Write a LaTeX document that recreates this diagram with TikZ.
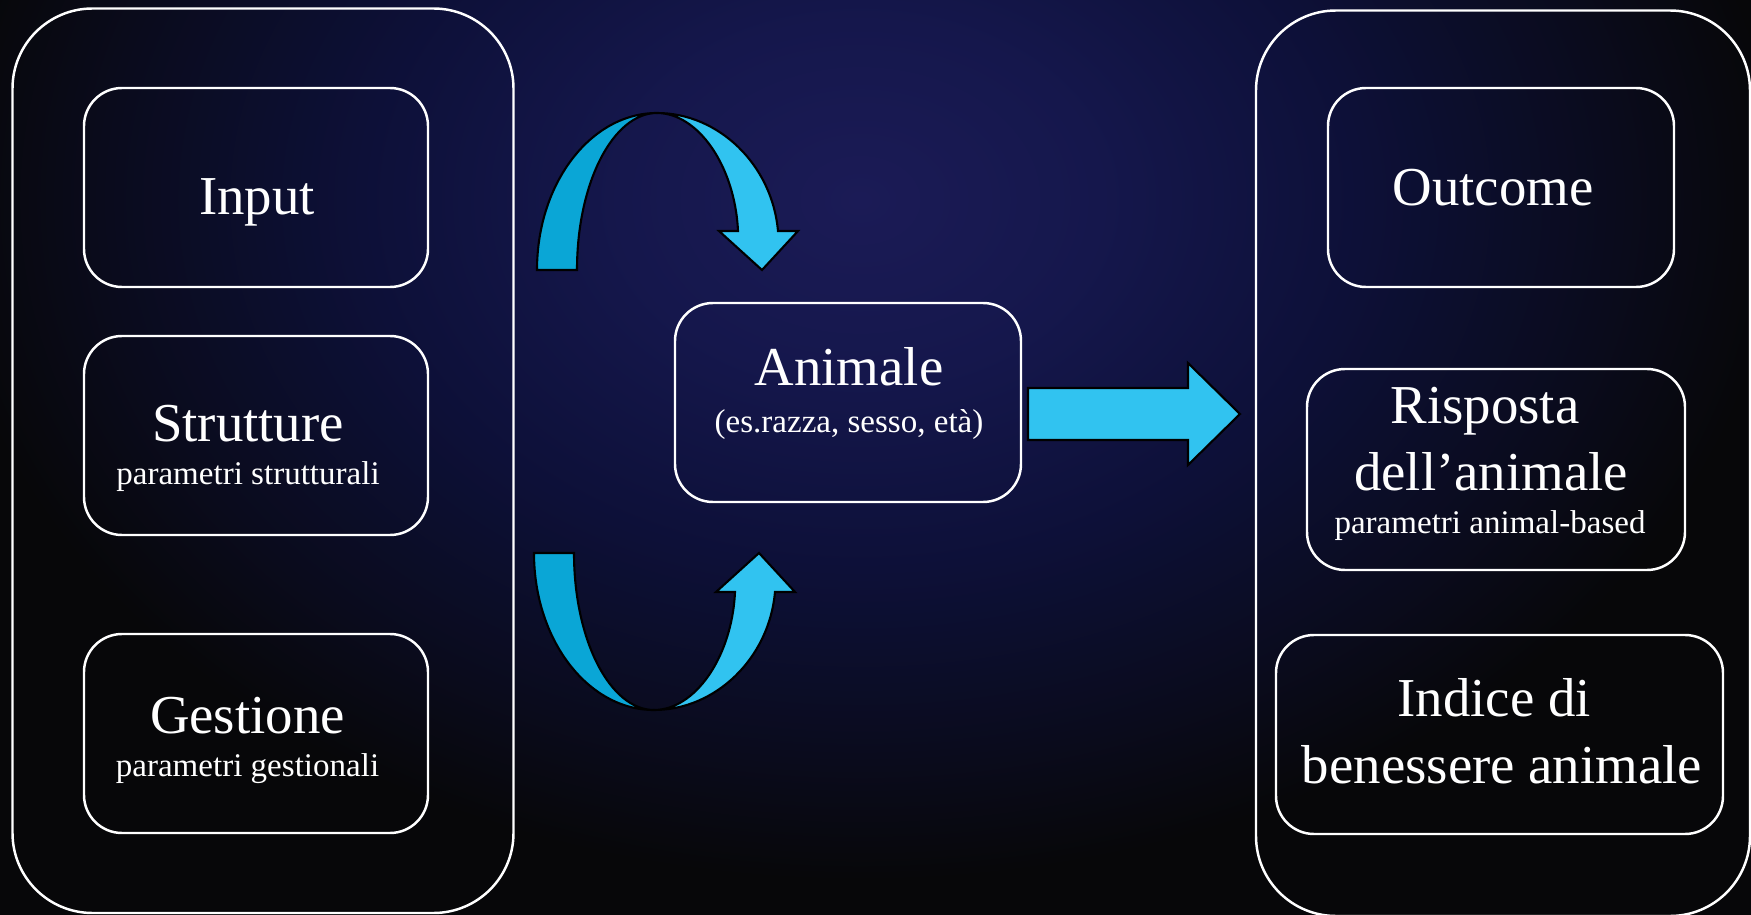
\documentclass[tikz,border=0pt]{standalone}
\usepackage{fontspec}
\setmainfont{Liberation Serif}
\definecolor{glowA}{HTML}{1B1B56}
\definecolor{glowB}{HTML}{15174C}
\definecolor{glowC}{HTML}{0D1038}
\definecolor{glowD}{HTML}{0A0B1C}
\definecolor{glowE}{HTML}{070709}
\definecolor{bandDark}{HTML}{0AA6D6}
\definecolor{bandLight}{HTML}{31C3F0}
\pgfdeclareradialshading{bgglow}{\pgfpoint{0bp}{0bp}}{color(0bp)=(glowA); color(6bp)=(glowB); color(12.5bp)=(glowC); color(19bp)=(glowD); color(23bp)=(glowE); color(50bp)=(glowE)}
\tikzset{
  bigbox/.style = {draw=white, line width=0.7pt, rounded corners=0.8cm, inner sep=0pt},
  box/.style = {draw=white, line width=0.7pt, rounded corners=0.38cm, inner sep=0pt,
    minimum height=1.99cm},
  maintxt/.style = {text=white, anchor=base, inner sep=0pt, font=\fontsize{15.6}{18}\selectfont},
  subtxt/.style = {text=white, anchor=base, inner sep=0pt, font=\fontsize{9.4}{11}\selectfont},
  darkband/.style = {draw=black, line width=0.6pt, fill=bandDark},
  lightband/.style = {draw=black, line width=0.6pt, fill=bandLight},
  looparrow/.pic = {
    \draw[darkband] (5.37,2.70) .. controls (5.37,1.83) and (5.91,1.13) .. (6.57,1.13)
      .. controls (6.13,1.13) and (5.77,1.83) .. (5.77,2.70) -- cycle;
    \draw[lightband] (6.57,1.13) .. controls (7.18,1.13) and (7.72,1.64) .. (7.78,2.31)
      -- (7.98,2.31) -- (7.62,2.70) -- (7.19,2.31) -- (7.38,2.31)
      .. controls (7.35,1.66) and (6.98,1.13) .. (6.57,1.13) -- cycle;
  },
}

\begin{document}
\begin{tikzpicture}[x=1cm,y=-1cm]
\useasboundingbox (0,0) rectangle (17.51,9.15);
% background
\begin{scope}
  \clip (0,0) rectangle (17.51,9.15);
  \shade[shading=bgglow] (-1.4,-5.4) rectangle (18.6,9.4);
\end{scope}

% groups
\node[bigbox, minimum width=5.01cm, minimum height=9.045cm] (left) at (2.63,4.6075) {};
\node[bigbox, minimum width=4.94cm, minimum height=9.055cm] (right) at (15.03,4.6325) {};

% left column
\node[box, minimum width=3.44cm] (input) at (2.56,1.875) {};
\node[box, minimum width=3.44cm] (strutture) at (2.56,4.355) {};
\node[box, minimum width=3.44cm] (gestione) at (2.56,7.335) {};
\node[maintxt] (input-t) at (2.57,2.14) {Input};
\node[maintxt] (strutture-t) at (2.48,4.41) {Strutture};
\node[subtxt] (strutture-s) at (2.48,4.845) {parametri strutturali};
\node[maintxt] (gestione-t) at (2.475,7.335) {Gestione};
\node[subtxt] (gestione-s) at (2.475,7.76) {parametri gestionali};

% centre
\node[box, minimum width=3.46cm] (animale) at (8.48,4.025) {};
\node[maintxt] (animale-t) at (8.49,3.855) {Animale};
\node[subtxt] (animale-s) at (8.49,4.32) {(es.razza, sesso, età)};

\pic at (0,0) {looparrow};
\pic[yscale=-1] at (-0.03,8.23) {looparrow};
\draw[lightband] (10.28,3.88) -- (11.88,3.88) -- (11.88,3.63) -- (12.40,4.14)
  -- (11.88,4.65) -- (11.88,4.40) -- (10.28,4.40) -- cycle;

% right column
\node[box, minimum width=3.46cm] (outcome) at (15.01,1.875) {};
\node[box, minimum width=3.78cm, minimum height=2.01cm] (risposta) at (14.96,4.695) {};
\node[box, minimum width=4.47cm] (indice) at (14.995,7.345) {};
\node[maintxt] (outcome-t) at (14.93,2.055) {Outcome};
\node[maintxt] (risposta-t) at (14.85,4.235) {Risposta};
\node[maintxt] (risposta-t2) at (14.91,4.90) {dell’animale};
\node[subtxt] (risposta-s) at (14.90,5.335) {parametri animal-based};
\node[maintxt] (indice-t) at (14.94,7.165) {Indice di};
\node[maintxt] (indice-t2) at (15.02,7.83) {benessere animale};
\end{tikzpicture}
\end{document}
